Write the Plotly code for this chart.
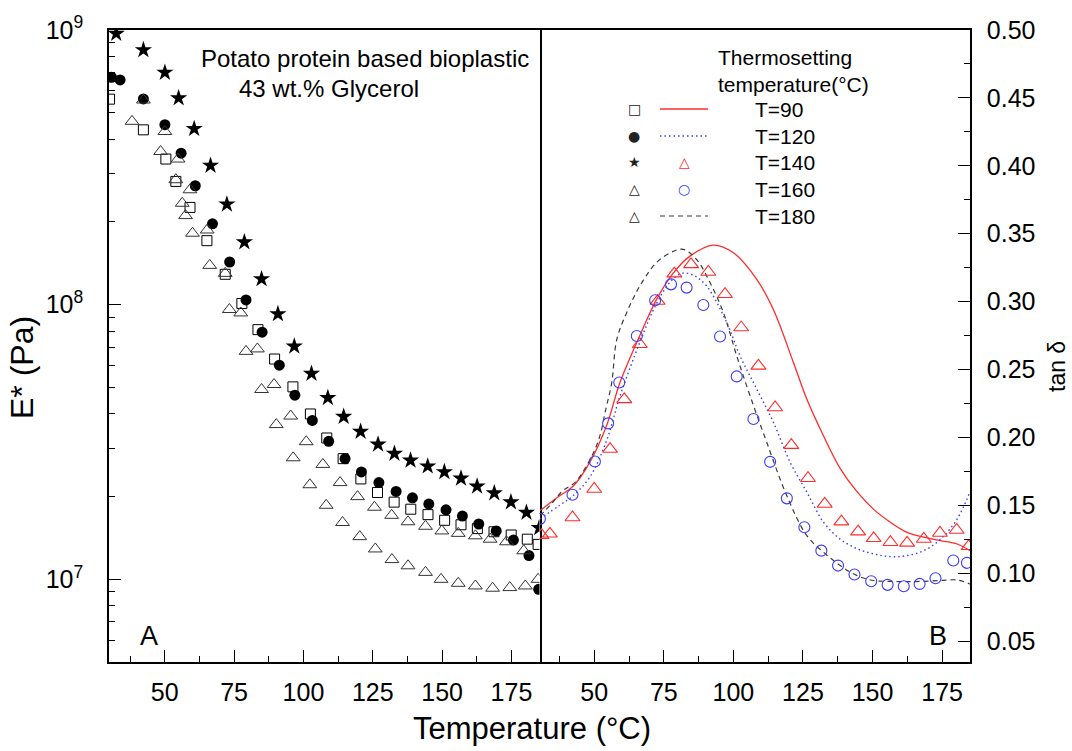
import numpy as np
import plotly.graph_objects as go

# ---------------- data: panel A, complex modulus E* (Pa) ----------------
T90_T = [30.1, 42.3, 50.4, 54.0, 59.1, 65.2, 71.8, 77.8, 83.6, 89.6, 96.2, 102.5, 108.4, 114.3,
         120.7, 126.7, 132.7, 138.7, 144.9, 150.9, 156.8, 162.7, 168.7, 174.9, 180.7, 184.6]
T90_E = [5.6e8, 4.33e8, 3.39e8, 2.81e8, 2.26e8, 1.71e8, 1.29e8, 1.01e8, 8.11e7, 6.34e7, 5.02e7,
         4.0e7, 3.27e7, 2.75e7, 2.32e7, 2.07e7, 1.91e7, 1.80e7, 1.72e7, 1.64e7, 1.58e7, 1.53e7,
         1.49e7, 1.45e7, 1.40e7, 1.34e7]

T120_T = [30.8, 33.9, 42.3, 50.05, 55.9, 61.0, 67.2, 73.4, 79.3, 85.1, 91.3, 96.9, 103.2, 109.1,
          115.0, 120.9, 127.2, 133.4, 139.3, 145.2, 151.4, 157.3, 163.2, 169.5, 175.7, 181.3, 184.8]
T120_E = [6.73e8, 6.58e8, 5.61e8, 4.52e8, 3.56e8, 2.71e8, 1.97e8, 1.43e8, 1.04e8, 7.94e7, 6.02e7,
          4.68e7, 3.79e7, 3.18e7, 2.75e7, 2.46e7, 2.25e7, 2.09e7, 1.98e7, 1.88e7, 1.79e7, 1.70e7,
          1.59e7, 1.50e7, 1.39e7, 1.22e7, 9.2e6]

T140_T = [32.5, 42.3, 50.05, 55.0, 60.6, 66.5, 72.4, 78.7, 84.9, 90.8, 96.7, 102.9, 108.8, 114.5,
          120.6, 126.9, 132.8, 138.6, 144.8, 150.8, 156.8, 162.6, 168.8, 174.8, 180.4, 185.0]
T140_E = [9.7e8, 8.46e8, 7.0e8, 5.65e8, 4.37e8, 3.21e8, 2.32e8, 1.69e8, 1.24e8, 9.25e7, 7.05e7,
          5.61e7, 4.58e7, 3.91e7, 3.45e7, 3.10e7, 2.87e7, 2.71e7, 2.58e7, 2.46e7, 2.33e7, 2.18e7,
          2.06e7, 1.91e7, 1.75e7, 1.54e7]

T160_T = [42.3, 50.05, 54.8, 59.1, 65.3, 71.8, 77.4, 83.4, 89.4, 95.4, 101.0, 107.0, 113.2, 119.5,
          125.6, 131.8, 137.7, 144.0, 149.9, 155.8, 162.0, 167.3, 173.2, 179.4]
T160_E = [5.56e8, 4.27e8, 3.39e8, 2.62e8, 1.87e8, 1.30e8, 9.33e7, 6.9e7, 5.12e7, 3.93e7, 3.17e7,
          2.62e7, 2.25e7, 2.0e7, 1.83e7, 1.71e7, 1.62e7, 1.56e7, 1.50e7, 1.47e7, 1.44e7, 1.40e7,
          1.37e7, 1.27e7]

T180_T = [38.2, 48.5, 54.0, 56.3, 57.5, 60.0, 66.2, 73.3, 79.3, 84.9, 90.2, 96.3, 102.3, 108.2,
          114.1, 120.3, 125.9, 131.9, 137.7, 144.0, 149.6, 155.8, 162.0, 168.2, 174.4, 180.0, 184.6]
T180_E = [4.65e8, 3.61e8, 2.85e8, 2.34e8, 2.11e8, 1.82e8, 1.39e8, 9.6e7, 6.76e7, 4.91e7, 3.66e7,
          2.77e7, 2.21e7, 1.86e7, 1.61e7, 1.43e7, 1.29e7, 1.18e7, 1.12e7, 1.06e7, 1.0e7, 9.67e6,
          9.46e6, 9.28e6, 9.33e6, 9.46e6, 1.0e7]

# ---------------- data: panel B, tan delta ----------------
tan90_T = [30.5, 37.6, 42.4, 48.5, 54.5, 59.2, 66.4, 72.5, 78.4, 84.4, 92.8, 100.0, 108.4, 114.4,
           121.6, 126.4, 132.4, 138.4, 144.4, 150.4, 156.4, 162.4, 168.4, 174.4, 180.4, 185.0]
tan90_v = [0.146, 0.157, 0.164, 0.182, 0.209, 0.240, 0.275, 0.302, 0.321, 0.3335, 0.3416, 0.336,
           0.3164, 0.294, 0.255, 0.228, 0.201, 0.177, 0.160, 0.147, 0.1375, 0.130, 0.1265, 0.124,
           0.1215, 0.1166]

tan120_T = [30.5, 37.6, 42.4, 48.5, 54.5, 59.2, 66.4, 72.5, 78.0, 82.0, 86.0, 90.4, 97.6, 102.4,
            108.4, 114.4, 120.4, 126.4, 132.4, 138.4, 144.4, 150.4, 156.4, 162.4, 168.4, 174.4,
            180.4, 185.0]
tan120_v = [0.140, 0.150, 0.157, 0.171, 0.198, 0.230, 0.270, 0.299, 0.316, 0.321, 0.319, 0.3115,
            0.2846, 0.26, 0.2355, 0.211, 0.1816, 0.1596, 0.1375, 0.125, 0.118, 0.1142, 0.1122,
            0.113, 0.1166, 0.125, 0.140, 0.160]

tan140_T = [31.1, 34.1, 42.2, 50.0, 55.7, 60.8, 66.4, 72.8, 78.8, 84.8, 91.0, 97.0, 102.8, 109.0,
            115.0, 120.8, 126.8, 132.8, 138.8, 144.8, 150.4, 156.4, 162.4, 168.4, 174.2, 180.2, 184.5]
tan140_v = [0.128, 0.129, 0.141, 0.162, 0.1914, 0.228, 0.2686, 0.3004, 0.3206, 0.3274, 0.3218,
            0.3054, 0.2809, 0.2527, 0.222, 0.1943, 0.1699, 0.151, 0.138, 0.1306, 0.1257, 0.1228,
            0.1223, 0.1252, 0.1296, 0.1318, 0.1198]

tan160_T = [30.5, 42.2, 50.25, 55.0, 59.0, 65.3, 71.9, 77.6, 83.2, 89.2, 95.2, 101.2, 107.2, 113.2,
            119.2, 125.5, 131.6, 137.6, 143.5, 149.5, 155.4, 161.2, 166.9, 172.6, 179.0, 183.9]
tan160_v = [0.140, 0.1578, 0.1823, 0.2103, 0.2404, 0.2747, 0.301, 0.3127, 0.3103, 0.2975, 0.2743,
            0.2449, 0.2135, 0.182, 0.1551, 0.1338, 0.1166, 0.1056, 0.099, 0.0941, 0.0914, 0.0904,
            0.0921, 0.0963, 0.1093, 0.1076]

tan180_T = [30.5, 35.0, 38.7, 43.2, 48.0, 51.7, 54.2, 56.3, 58.1, 61.7, 66.4, 72.5, 78.4, 82.0,
            86.8, 91.6, 96.4, 101.2, 106.0, 112.0, 119.2, 126.4, 132.4, 138.4, 144.4, 150.4, 156.4,
            162.4, 168.4, 174.4, 180.4, 185.0]
tan180_v = [0.142, 0.152, 0.1607, 0.167, 0.1817, 0.1988, 0.221, 0.2404, 0.272, 0.292, 0.3115,
            0.329, 0.337, 0.3385, 0.331, 0.314, 0.292, 0.26, 0.2306, 0.1963, 0.157, 0.1276, 0.1154,
            0.1056, 0.0982, 0.0946, 0.094, 0.0938, 0.094, 0.0946, 0.095, 0.092]

legend_labels = ["T=90", "T=120", "T=140", "T=160", "T=180"]

# ---------------- layout geometry (pixels) ----------------
W, H = 1072, 751
L, R, TOP, BOT = 109, 970, 30, 662
PW, PH = R - L, BOT - TOP


def px(x):
    return (x - L) / PW


def py(y):
    return (BOT - y) / PH


FONT = "Liberation Sans, Arial, Helvetica, sans-serif"
RED = "#ff2b2b"
BLUE = "#3b3bff"
GRAY = "#3a3a3a"

fig = go.Figure()

# panel A
fig.add_trace(go.Scatter(x=T90_T, y=T90_E, mode="markers", xaxis="x", yaxis="y",
                         marker=dict(symbol="square-open", size=10, color="black", line=dict(width=1))))
fig.add_trace(go.Scatter(x=T120_T, y=T120_E, mode="markers", xaxis="x", yaxis="y",
                         marker=dict(symbol="circle", size=11, color="black")))
fig.add_trace(go.Scatter(x=T140_T, y=T140_E, mode="markers", xaxis="x", yaxis="y",
                         marker=dict(symbol="star", size=13, color="black")))
fig.add_trace(go.Scatter(x=T160_T, y=T160_E, mode="markers", xaxis="x", yaxis="y",
                         marker=dict(symbol="triangle-up-open", size=12, color="#333333", line=dict(width=1))))
fig.add_trace(go.Scatter(x=T180_T, y=T180_E, mode="markers", xaxis="x", yaxis="y",
                         marker=dict(symbol="triangle-up-open", size=12, color="#333333", line=dict(width=1))))

# panel B
fig.add_trace(go.Scatter(x=tan90_T, y=tan90_v, mode="lines", xaxis="x2", yaxis="y2",
                         line=dict(color=RED, width=1.3, shape="spline")))
fig.add_trace(go.Scatter(x=tan120_T, y=tan120_v, mode="lines", xaxis="x2", yaxis="y2",
                         line=dict(color=BLUE, width=1.4, dash="1.5px,3px", shape="spline")))
fig.add_trace(go.Scatter(x=tan180_T, y=tan180_v, mode="lines", xaxis="x2", yaxis="y2",
                         line=dict(color=GRAY, width=1.2, dash="5px,4px", shape="spline")))
fig.add_trace(go.Scatter(x=tan140_T, y=tan140_v, mode="markers", xaxis="x2", yaxis="y2",
                         marker=dict(symbol="triangle-up-open", size=13, color=RED, line=dict(width=1.1))))
fig.add_trace(go.Scatter(x=tan160_T, y=tan160_v, mode="markers", xaxis="x2", yaxis="y2",
                         marker=dict(symbol="circle-open", size=11, color=BLUE, line=dict(width=1.1))))

tickfont = dict(family=FONT, size=25, color="black")
axis_common = dict(showline=True, linecolor="black", linewidth=1.6,
                   showgrid=False, zeroline=False, ticks="inside", ticklen=12, tickwidth=1.3,
                   tickcolor="black", tickfont=tickfont)

minor_log = [k * 10.0 ** e for e in (6, 7, 8) for k in range(2, 10)]

fig.update_layout(
    width=W, height=H,
    margin=dict(l=L, r=W - R, t=TOP, b=H - BOT, pad=0),
    paper_bgcolor="white", plot_bgcolor="white",
    showlegend=False,
    xaxis=dict(domain=[0, 0.5], range=[29.9, 185.1], anchor="y", tick0=0, dtick=25,
               ticklabelstandoff=7, mirror=True,
               minor=dict(ticks="inside", ticklen=6, tickwidth=1.3, tickcolor="black", dtick=12.5, tick0=0),
               **axis_common),
    xaxis2=dict(domain=[0.5, 1], range=[30.35, 185.0], anchor="y2", tick0=0, dtick=25,
                ticklabelstandoff=7, mirror=True,
                minor=dict(ticks="inside", ticklen=6, tickwidth=1.3, tickcolor="black", dtick=12.5, tick0=0),
                **axis_common),
    yaxis=dict(type="log", range=[np.log10(5e6), 9], anchor="x", domain=[0, 1],
               tickvals=[1e7, 1e8, 1e9], ticktext=["10<sup>7</sup>", "10<sup>8</sup>", "10<sup>9</sup>"],
               ticklabelstandoff=19, mirror=True,
               minor=dict(ticks="inside", ticklen=6, tickwidth=1.3, tickcolor="black", tickvals=minor_log),
               **axis_common),
    yaxis2=dict(range=[0.0346, 0.5], anchor="x2", side="right", domain=[0, 1], tick0=0, dtick=0.05,
                tickformat=".2f", ticklabelstandoff=10, mirror=False,
                minor=dict(ticks="inside", ticklen=6, tickwidth=1.3, tickcolor="black", dtick=0.025, tick0=0),
                **axis_common),
)

ann = []


def text(s, x, y, size, xanchor="center", color="black", angle=0, family=FONT):
    ann.append(dict(text=s, x=px(x), y=py(y), xref="paper", yref="paper", showarrow=False,
                    xanchor=xanchor, yanchor="middle", textangle=angle,
                    font=dict(family=family, size=size, color=color)))


text("Temperature (°C)", 532, 729, 31)
text("E* (Pa)", 22, 368, 32, angle=-90)
text("tan δ", 1057, 367, 23, angle=-90)
text("Potato protein based bioplastic", 365, 58, 24)
text("43 wt.% Glycerol", 329, 88, 24)
text("A", 149, 636, 27)
text("B", 938, 636, 27)

# legend
text("Thermosetting", 785, 57, 21)
text("temperature(°C)", 793, 84, 21)
rows = [109, 136, 162, 189, 216]
sym_font = "DejaVu Sans, sans-serif"
col1 = ["□", "●", "★", "△", "△"]
for i, lab in enumerate(legend_labels):
    text(lab, 753, rows[i], 21, xanchor="left")
    text(col1[i], 634, rows[i], 14, family=sym_font, color="#222222")
text("△", 684, rows[2], 14, color=RED, family=sym_font)
text("○", 684, rows[3], 14, color=BLUE, family=sym_font)

shapes = []
for r_i, (col, dash, wdt) in zip([0, 1, 4], [(RED, "solid", 1.3), (BLUE, "1.5px,3px", 1.4), (GRAY, "5px,4px", 1.2)]):
    shapes.append(dict(type="line", xref="paper", yref="paper", x0=px(660), x1=px(708),
                       y0=py(rows[r_i]), y1=py(rows[r_i]), line=dict(color=col, width=wdt, dash=dash)))

fig.update_layout(annotations=ann, shapes=shapes)

fig.write_html("out.html")
